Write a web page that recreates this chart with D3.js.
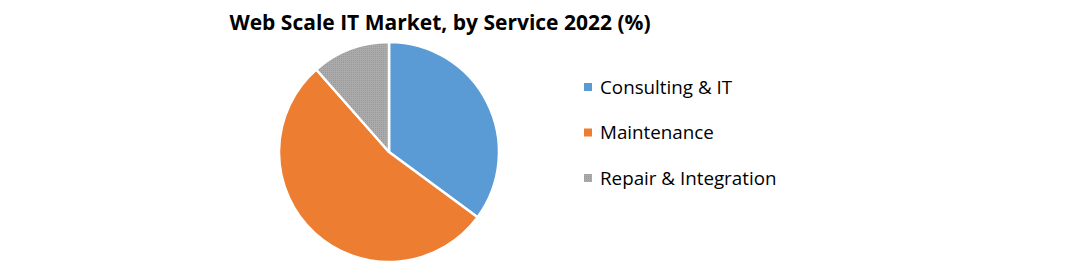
<!DOCTYPE html>
<html>
<head>
<meta charset="utf-8">
<script src="https://cdn.jsdelivr.net/npm/d3@7"></script>
<style>
  body { margin: 0; background: #fff; }
  text { font-family: "Open Sans", "Noto Sans", sans-serif; }
</style>
</head>
<body>
<script>
var width = 1069, height = 265;

// data
var services = ["Consulting & IT", "Maintenance", "Repair & Integration"];
var shares = [35.1, 53.4, 11.5];
var colors = ["#5B9BD5", "#ED7D31", "#A5A5A5"];

var cx = 389, cy = 152, radius = 110;

var svg = d3.select("body").append("svg")
    .attr("width", width)
    .attr("height", height);

// dotted texture on the gray slice
var defs = svg.append("defs");
var pat = defs.append("pattern")
    .attr("id", "dots")
    .attr("width", 2).attr("height", 2)
    .attr("patternUnits", "userSpaceOnUse");
pat.append("rect").attr("width", 2).attr("height", 2).attr("fill", "#ABABAB");
pat.append("rect").attr("width", 1).attr("height", 1).attr("fill", "#989898");

var fill = function(i) { return i == 2 ? "url(#dots)" : colors[i]; };

// title
svg.append("text")
    .attr("x", 440)
    .attr("y", 30)
    .attr("text-anchor", "middle")
    .style("font-size", "21px")
    .style("font-weight", "bold")
    .text("Web Scale IT Market, by Service 2022 (%)");

var pie = d3.pie().sort(null).value(function(d) { return d; });
var arc = d3.arc().innerRadius(0).outerRadius(radius);

svg.append("g")
    .attr("transform", "translate(" + cx + "," + cy + ")")
    .selectAll("path")
    .data(pie(shares))
    .enter()
    .append("path")
    .attr("d", arc)
    .attr("fill", function(d, i) { return fill(i); })
    .attr("stroke", "#fff")
    .attr("stroke-width", 2.5)
    .attr("stroke-linejoin", "round");

// legend
var legend = svg.append("g")
    .attr("transform", "translate(584,87)");

var item = legend.selectAll("g")
    .data(services)
    .enter()
    .append("g")
    .attr("transform", function(d, i) { return "translate(0," + (i * 45.5) + ")"; });

item.append("rect")
    .attr("x", 0).attr("y", -4)
    .attr("width", 8).attr("height", 8)
    .attr("fill", function(d, i) { return fill(i); });

item.append("text")
    .attr("x", 16)
    .attr("y", 0)
    .attr("dy", "0.35em")
    .style("font-size", "18.8px")
    .style("fill", "#000")
    .text(function(d) { return d; });
</script>
</body>
</html>
